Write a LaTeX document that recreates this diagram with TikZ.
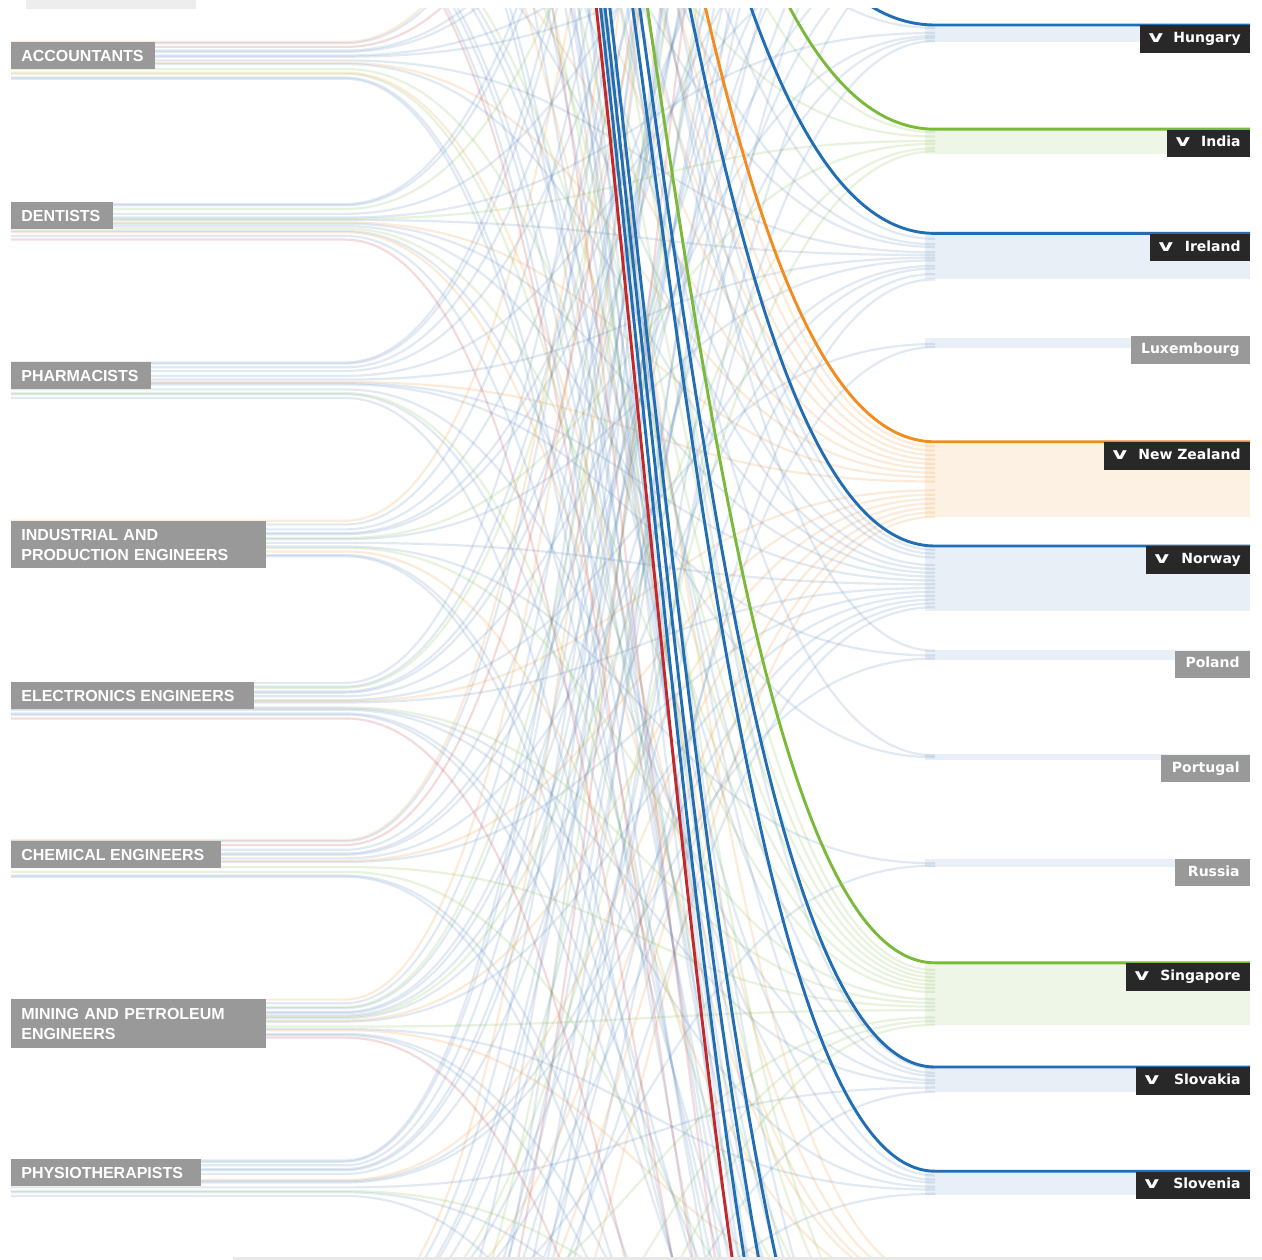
\documentclass[tikz,border=0pt]{standalone}
\usepackage{fontspec}
\newfontfamily\occfont{Liberation Sans}
\newfontfamily\ctyfont{DejaVu Sans}
\newcommand\chev{\scalebox{1.6}[1.15]{v}}
\definecolor{cB}{RGB}{33,110,180}
\definecolor{cG}{RGB}{122,185,58}
\definecolor{cO}{RGB}{242,140,30}
\definecolor{cR}{RGB}{195,40,45}
\definecolor{wB}{RGB}{80,130,185}
\definecolor{labgray}{RGB}{153,153,153}
\definecolor{labdark}{RGB}{40,40,40}
\begin{document}
\begin{tikzpicture}[x=0.02cm, y=-0.02cm,
  webline/.style={line width=0.044cm, draw opacity=0.17},
  bandfill/.style={fill opacity=0.12},
  hlline/.style={line width=0.058cm},
  labbase/.style={text=white, inner ysep=0pt},
  occlab/.style={labbase, fill=labgray, anchor=north west, inner xsep=0.2cm, minimum height=0.54cm,
    font=\occfont\bfseries\fontsize{9.1pt}{11.36pt}\selectfont, text height=6.55pt, text depth=0pt},
  occlabtwo/.style={labbase, fill=labgray, anchor=north west, inner xsep=0.2cm, align=left, text width=4.7cm,
    font=\occfont\bfseries\fontsize{9.1pt}{11.36pt}\selectfont},
  ctydark/.style={labbase, fill=labdark, anchor=north east, inner xsep=0.18cm, minimum height=0.55cm,
    font=\ctyfont\bfseries\fontsize{7.97pt}{9.5pt}\selectfont, text height=5.82pt, text depth=1.75pt},
  ctygray/.style={ctydark, fill=labgray, inner xsep=0.2cm}]
\useasboundingbox (0,0) rectangle (1262,1260);
\fill[white] (0,0) rectangle (1262,1260);

\begin{scope}
\clip (0,9) rectangle (1262,1256);
% faint web of all occupation-country links
\foreach \kc/\col/\w/\n in {
 -13/cO/30/8, -12/wB/30/8, -11/wB/30/8, -10/wB/30/6, -9/cR/30/5, -8/wB/30/6, -7/cG/30/8,
 -6/wB/30/7, -5/wB/30/8, -4/wB/30/6, -3/wB/30/8, -2/wB/30/9, -1/wB/30/9,
 0/wB/17/5, 1/cG/25/7, 2/wB/46/12, 3/wB/10/2, 4/cO/75/17, 5/wB/65/16, 6/wB/10/3,
 7/wB/6/2, 8/wB/8/2, 9/cG/62/15, 10/wB/25/7, 11/wB/24/7,
 12/cO/30/8, 13/cG/30/8, 14/wB/30/8, 15/wB/30/9, 16/wB/30/9, 17/wB/30/9, 18/cR/30/6}
{
  \pgfmathsetmacro\yc{25+104.2*(\kc)}
  \pgfmathsetmacro\yl{42+38*((\kc)+13)/31}
  \fill[\col, bandfill] (925,\yc) rectangle (1250,\yc+\w);
  \foreach \io in {-6,...,10}{
    \pgfmathtruncatemacro\sel{mod((\io)*7+(\kc)*5+300,18)<\n ? 1 : 0}
    \ifnum\sel=1
      \pgfmathsetmacro\yo{159.6*(\io)+\yl}
      \pgfmathsetmacro\ye{\yc+\w*((\io)+7)/17}
      \draw[webline, draw=\col] (11,\yo) -- (345,\yo) .. controls (640,\yo) and (640,\ye) .. (935,\ye);
    \fi
  }
}
% highlighted links of the selected occupation
\foreach \kc/\col in {0/cB, 1/cG, 2/cB, 4/cO, 5/cB, 9/cG, 10/cB, 11/cB, 15/cB, 16/cB, 17/cB, 18/cR}
{
  \pgfmathsetmacro\yc{25+104.2*(\kc)}
  \pgfmathsetmacro\ys{42-159.6*7+38*((\kc)+13)/31}
  \draw[hlline, draw=\col] (11,\ys) -- (345,\ys) .. controls (640,\ys) and (640,\yc) .. (935,\yc) -- (1250,\yc);
}
\end{scope}

% decorations at top and bottom
\fill[black!7] (26,0) rectangle (196,9);
\fill[black!9] (233,1257) rectangle (1262,1260);

% occupation labels
\node[occlab] (acc) at (11,42) {\hbox to 2.48cm{ACCOUNTANTS\hss}};
\node[occlab] (den) at (11,202) {\hbox to 1.64cm{DENTISTS\hss}};
\node[occlab] (pha) at (11,362) {\hbox to 2.40cm{PHARMACISTS\hss}};
\node[occlabtwo, minimum height=0.94cm] (ind) at (11,521) {INDUSTRIAL AND\\PRODUCTION ENGINEERS};
\node[occlab] (ele) at (11,682) {\hbox to 4.46cm{ELECTRONICS ENGINEERS\hss}};
\node[occlab] (che) at (11,841) {\hbox to 3.80cm{CHEMICAL ENGINEERS\hss}};
\node[occlabtwo, minimum height=0.98cm] (min) at (11,999) {MINING AND PETROLEUM\\ENGINEERS};
\node[occlab] (phy) at (11,1159) {\hbox to 3.40cm{PHYSIOTHERAPISTS\hss}};

% country labels
\node[ctydark] (hu) at (1250,25)     {\hbox to 1.84cm{\chev\hss Hungary}};
\node[ctydark] (inx) at (1250,129.2) {\hbox to 1.30cm{\chev\hss India}};
\node[ctydark] (ie) at (1250,233.4)  {\hbox to 1.64cm{\chev\hss Ireland}};
\node[ctygray] (lu) at (1250,336)    {\hbox to 1.98cm{\hss Luxembourg}};
\node[ctydark] (nz) at (1250,441.8)  {\hbox to 2.56cm{\chev\hss New Zealand}};
\node[ctydark] (no) at (1250,546)    {\hbox to 1.72cm{\chev\hss Norway}};
\node[ctygray] (pl) at (1250,650.2)  {\hbox to 1.10cm{\hss Poland}};
\node[ctygray] (pt) at (1250,754.4)  {\hbox to 1.38cm{\hss Portugal}};
\node[ctygray] (ru) at (1250,858.6)  {\hbox to 1.10cm{\hss Russia}};
\node[ctydark] (sg) at (1250,962.8)  {\hbox to 2.12cm{\chev\hss Singapore}};
\node[ctydark] (sk) at (1250,1067)   {\hbox to 1.92cm{\chev\hss Slovakia}};
\node[ctydark] (si) at (1250,1171.2) {\hbox to 1.92cm{\chev\hss Slovenia}};
\end{tikzpicture}
\end{document}
